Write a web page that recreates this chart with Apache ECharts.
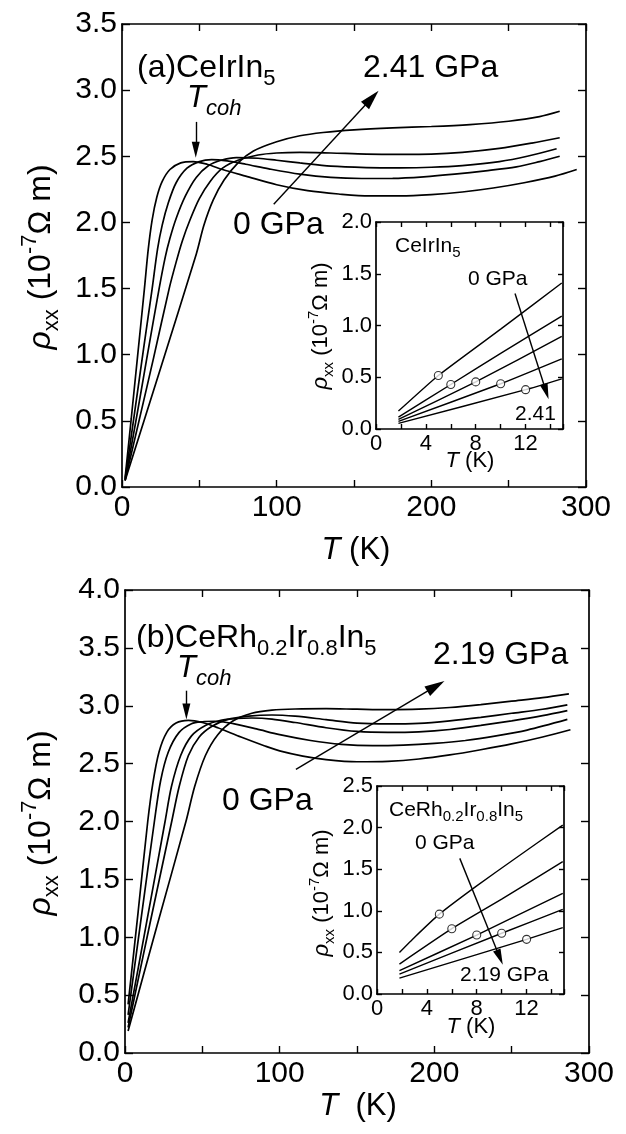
<!DOCTYPE html>
<html><head><meta charset="utf-8">
<script src="https://cdn.jsdelivr.net/npm/echarts@6/dist/echarts.min.js"></script>
<style>html,body{margin:0;padding:0;background:#fff}#c{width:626px;height:1134px}</style>
</head><body><div id="c"></div>
<script>
// ---------- Panel (a) CeIrIn5 : [T (K), rho_xx (1e-7 Ohm m)] ----------
const a_p0 = [[2,0.07],[6,0.52],[10,0.98],[14.5,1.5],[17,1.8],[19.5,2.02],[22.5,2.19],[26,2.31],[31,2.4],[38,2.45],[46,2.46],[55,2.44],[65,2.4],[80,2.35],[100,2.285],[120,2.24],[140,2.215],[160,2.2],[180,2.2],[200,2.21],[220,2.23],[240,2.26],[260,2.3],[280,2.35],[294,2.40]];
const a_p1 = [[2,0.06],[8,0.55],[14,1.05],[19.5,1.5],[23,1.8],[26,1.98],[30,2.15],[35,2.3],[42,2.41],[50,2.46],[58,2.475],[68,2.465],[80,2.44],[95,2.405],[115,2.365],[135,2.34],[155,2.332],[175,2.333],[195,2.345],[215,2.365],[235,2.39],[255,2.42],[270,2.46],[283,2.50]];
const a_p2 = [[2,0.05],[9,0.5],[16,0.97],[24,1.5],[28,1.74],[31,1.88],[35,2.03],[41,2.2],[48,2.34],[56,2.43],[64,2.47],[74,2.49],[88,2.485],[100,2.47],[115,2.45],[135,2.425],[158,2.415],[180,2.413],[200,2.417],[220,2.43],[244,2.46],[262,2.5],[281,2.557]];
const a_p3 = [[2,0.05],[11,0.5],[20.5,0.98],[30.5,1.5],[35,1.7],[39,1.86],[44,2.02],[50,2.18],[57,2.31],[65,2.41],[75,2.47],[88,2.51],[100,2.525],[115,2.53],[135,2.525],[158,2.517],[180,2.515],[200,2.517],[220,2.53],[244,2.56],[265,2.6],[283,2.64]];
const a_p4 = [[2,0.05],[25,0.9],[48,1.76],[53,1.98],[59,2.17],[66,2.32],[75,2.45],[85,2.54],[100,2.61],[115,2.655],[130,2.68],[150,2.7],[175,2.715],[200,2.725],[225,2.74],[250,2.765],[270,2.8],[283,2.84]];
// inset (a)
const ai_p0 = [[1.8,0.173],[5,0.517],[10,0.965],[14.9,1.41]];
const ai_p1 = [[1.8,0.115],[6,0.43],[10,0.73],[14.9,1.09]];
const ai_p2 = [[1.8,0.093],[8,0.455],[14.9,0.894]];
const ai_p3 = [[1.8,0.073],[10,0.437],[14.9,0.678]];
const ai_p4 = [[1.8,0.054],[12,0.38],[14.9,0.485]];
const ai_marks = [[5,0.517],[6,0.43],[8,0.455],[10,0.437],[12,0.38]];

// ---------- Panel (b) CeRh0.2Ir0.8In5 ----------
const b_p0 = [[2,0.42],[8.5,1.22],[14.7,2.0],[18,2.33],[22,2.6],[27,2.77],[33,2.85],[41,2.873],[50,2.855],[60,2.81],[75,2.73],[90,2.655],[100,2.61],[115,2.565],[130,2.535],[150,2.516],[170,2.52],[190,2.54],[210,2.575],[230,2.62],[250,2.67],[270,2.73],[288,2.793]];
const b_p1 = [[2,0.33],[10.5,1.17],[19,2.0],[23,2.35],[28,2.6],[35,2.77],[43,2.845],[50,2.862],[58,2.866],[70,2.845],[85,2.8],[100,2.75],[120,2.7],[140,2.667],[160,2.655],[180,2.66],[200,2.675],[220,2.7],[240,2.74],[260,2.79],[286,2.882]];
const b_p2 = [[2,0.26],[14,1.13],[25.9,2.0],[30,2.3],[36,2.57],[43,2.74],[52,2.83],[62,2.875],[72,2.89],[82,2.894],[95,2.885],[110,2.855],[130,2.81],[150,2.778],[170,2.77],[190,2.775],[210,2.795],[230,2.83],[250,2.87],[270,2.915],[286,2.958]];
const b_p3 = [[2,0.22],[16,1.11],[30.2,2.0],[35,2.3],[41,2.57],[48,2.73],[56,2.82],[66,2.88],[80,2.91],[95,2.92],[110,2.91],[130,2.88],[150,2.85],[170,2.843],[190,2.848],[210,2.87],[230,2.9],[250,2.935],[270,2.97],[286,3.008]];
const b_p4 = [[2,0.19],[20.7,1.1],[39.4,2.0],[45,2.3],[52,2.57],[60,2.75],[70,2.87],[82,2.935],[95,2.962],[110,2.972],[130,2.975],[150,2.97],[170,2.966],[190,2.97],[210,2.985],[230,3.01],[250,3.04],[270,3.07],[287,3.103]];
// inset (b)
const bi_p0 = [[1.8,0.5],[3,0.68],[5,0.96],[8,1.3],[11,1.62],[14.9,2.03]];
const bi_p1 = [[1.8,0.36],[6,0.785],[10,1.14],[14.9,1.59]];
const bi_p2 = [[1.8,0.28],[8,0.709],[14.9,1.21]];
const bi_p3 = [[1.8,0.24],[10,0.73],[14.9,1.018]];
const bi_p4 = [[1.8,0.19],[12,0.657],[14.9,0.797]];
const bi_marks = [[5,0.96],[6,0.785],[8,0.709],[10,0.73],[12,0.657]];

// axis ranges / tick labels
const mainT = {min:0, max:300, step:50, labelStep:100};
const insetT = {min:0, max:15, step:2, labelStep:4};
const rhoMaxA = 3.5, rhoMaxB = 4.0, rhoMaxAi = 2.0, rhoMaxBi = 2.5, rhoStep = 0.5;

const F = "'Liberation Sans', Arial, Helvetica, sans-serif";
const chart = echarts.init(document.getElementById('c'), null, {renderer:'canvas'});

function xAx(g, r, pos, show, fs, tl) {
  return {type:'value', gridIndex:g, position:pos, min:r.min, max:r.max, interval:r.step,
    axisLine:{show:true, onZero:false, lineStyle:{color:'#000', width:1.7}},
    axisTick:{show:true, inside:true, length:tl, lineStyle:{color:'#000', width:1.4}},
    axisLabel:{show:show, fontSize:fs, fontFamily:F, color:'#000', margin:fs>25?6:4,
      formatter:v => (Math.abs(v % r.labelStep) < 1e-6 ? String(v) : '')},
    splitLine:{show:false}};
}
function yAx(g, max, pos, show, fs, tl) {
  return {type:'value', gridIndex:g, position:pos, min:0, max:max, interval:rhoStep,
    axisLine:{show:true, onZero:false, lineStyle:{color:'#000', width:1.7}},
    axisTick:{show:true, inside:true, length:tl, lineStyle:{color:'#000', width:1.4}},
    axisLabel:{show:show, fontSize:fs, fontFamily:F, color:'#000', margin:fs>25?5:4,
      formatter:v => v.toFixed(1)},
    splitLine:{show:false}};
}

const grids = [
  {left:122, top:24, width:464, height:463},
  {left:125, top:590, width:464, height:463},
  {left:376, top:222, width:187, height:207, show:true, backgroundColor:'#fff', borderWidth:0},
  {left:377, top:786, width:187, height:208, show:true, backgroundColor:'#fff', borderWidth:0}
];
const xAxes = [
  xAx(0, mainT, 'bottom', true, 30, 7), xAx(0, mainT, 'top', false, 30, 7),
  xAx(1, mainT, 'bottom', true, 30, 7), xAx(1, mainT, 'top', false, 30, 7),
  xAx(2, insetT, 'bottom', true, 22, 5), xAx(2, insetT, 'top', false, 22, 5),
  xAx(3, insetT, 'bottom', true, 22, 5), xAx(3, insetT, 'top', false, 22, 5)
];
const yAxes = [
  yAx(0, rhoMaxA, 'left', true, 30, 8), yAx(0, rhoMaxA, 'right', false, 30, 8),
  yAx(1, rhoMaxB, 'left', true, 30, 8), yAx(1, rhoMaxB, 'right', false, 30, 8),
  yAx(2, rhoMaxAi, 'left', true, 22, 5), yAx(2, rhoMaxAi, 'right', false, 22, 5),
  yAx(3, rhoMaxBi, 'left', true, 22, 5), yAx(3, rhoMaxBi, 'right', false, 22, 5)
];

function arrowLine(a, b, size) {
  return [{coord:a, symbol:'none'}, {coord:b, symbol:'triangle', symbolSize:size}];
}
function curve(data, xi, yi, w, sm, ml) {
  const s = {type:'line', xAxisIndex:xi, yAxisIndex:yi, data:data, showSymbol:false,
    smooth:sm, lineStyle:{color:'#000', width:w}, silent:true, animation:false, z:3};
  if (ml) s.markLine = {silent:true, symbol:['none','triangle'], label:{show:false},
    lineStyle:{color:'#000', width:1.4, type:'solid'}, emphasis:{disabled:true}, animation:false, data:ml};
  return s;
}
function marks(data, xi, yi) {
  return {type:'scatter', xAxisIndex:xi, yAxisIndex:yi, data:data, symbol:'circle', symbolSize:8,
    itemStyle:{color:'#fff', borderColor:'#000', borderWidth:1.1}, silent:true, animation:false, z:5};
}

const series = [
  curve(a_p0, 0, 0, 1.7, 0.3, [arrowLine([98.1,2.137],[161.5,2.94],[11,20]), arrowLine([47.7,2.76],[47.7,2.55],[8,16])]),
  curve(a_p1, 0, 0, 1.7, 0.3), curve(a_p2, 0, 0, 1.7, 0.3), curve(a_p3, 0, 0, 1.7, 0.3), curve(a_p4, 0, 0, 1.7, 0.3),
  curve(b_p0, 2, 2, 1.7, 0.3, [arrowLine([110.5,2.45],[201,3.17],[11,20]), arrowLine([39.7,3.13],[39.7,2.95],[8,16])]),
  curve(b_p1, 2, 2, 1.7, 0.3), curve(b_p2, 2, 2, 1.7, 0.3), curve(b_p3, 2, 2, 1.7, 0.3), curve(b_p4, 2, 2, 1.7, 0.3),
  curve(ai_p0, 4, 4, 1.4, 0.15, [arrowLine([11.15,1.31],[13.65,0.36],[8,16])]),
  curve(ai_p1, 4, 4, 1.4, 0.15), curve(ai_p2, 4, 4, 1.4, 0.15), curve(ai_p3, 4, 4, 1.4, 0.15), curve(ai_p4, 4, 4, 1.4, 0.15),
  curve(bi_p0, 6, 6, 1.4, 0.15, [arrowLine([6.64,1.63],[9.85,0.44],[8,16])]),
  curve(bi_p1, 6, 6, 1.4, 0.15), curve(bi_p2, 6, 6, 1.4, 0.15), curve(bi_p3, 6, 6, 1.4, 0.15), curve(bi_p4, 6, 6, 1.4, 0.15),
  marks(ai_marks, 4, 4), marks(bi_marks, 6, 6)
];

function rich(s) {
  const lh = Math.round(s * 1.38), ss = Math.round(s * 0.7);
  return {
    n:{fontSize:s, fontFamily:F, fill:'#000', color:'#000', lineHeight:lh},
    i:{fontSize:s, fontFamily:F, fontStyle:'italic', fill:'#000', color:'#000', lineHeight:lh},
    s:{fontSize:ss, fontFamily:F, fill:'#000', color:'#000', verticalAlign:'bottom'},
    si:{fontSize:ss, fontFamily:F, fontStyle:'italic', fill:'#000', color:'#000', verticalAlign:'bottom'},
    p:{fontSize:ss, fontFamily:F, fill:'#000', color:'#000', verticalAlign:'top'}
  };
}
function T(x, y, text, size, align, rot) {
  return {type:'text', x:x, y:y, rotation:rot || 0, z:100, silent:true,
    style:{text:text, rich:rich(size), align:align || 'left', verticalAlign:'middle',
      textAlign:align || 'left', textVerticalAlign:'middle', fontSize:size, fontFamily:F, fill:'#000'}};
}
const R90 = Math.PI / 2;
const yTitle = '{i|ρ}{s|xx}{n| (10}{p|-7}{n|Ω m)}';
const graphics = [
  // panel a
  T(137, 68, '{n|(a)CeIrIn}{s|5}', 32),
  T(363, 68, '{n|2.41 GPa}', 32),
  T(187, 98, '{i|T}{si|coh}', 31),
  T(233, 225, '{n|0 GPa}', 32),
  T(356, 550, '{i|T}{n| (K)}', 31, 'center'),
  T(41, 257, yTitle, 32, 'center', R90),
  T(395, 246, '{n|CeIrIn}{s|5}', 21),
  T(468, 279, '{n|0 GPa}', 21),
  T(515, 414, '{n|2.41}', 21),
  T(470, 461, '{i|T}{n| (K)}', 22, 'center'),
  T(321, 326, yTitle, 22, 'center', R90),
  // panel b
  T(136, 638, '{n|(b)CeRh}{s|0.2}{n|Ir}{s|0.8}{n|In}{s|5}', 32),
  T(433, 655, '{n|2.19 GPa}', 32),
  T(177, 668, '{i|T}{si|coh}', 31),
  T(222, 801, '{n|0 GPa}', 32),
  T(358, 1106, '{i|T}{n|  (K)}', 31, 'center'),
  T(41, 823, yTitle, 32, 'center', R90),
  T(389, 810, '{n|CeRh}{s|0.2}{n|Ir}{s|0.8}{n|In}{s|5}', 21),
  T(415, 843, '{n|0 GPa}', 21),
  T(460, 975, '{n|2.19 GPa}', 21),
  T(471, 1027, '{i|T}{n| (K)}', 22, 'center'),
  T(322, 893, yTitle, 22, 'center', R90)
];

chart.setOption({
  animation:false, backgroundColor:'#fff',
  grid:grids, xAxis:xAxes, yAxis:yAxes, series:series, graphic:graphics
});
</script>
</body></html>
